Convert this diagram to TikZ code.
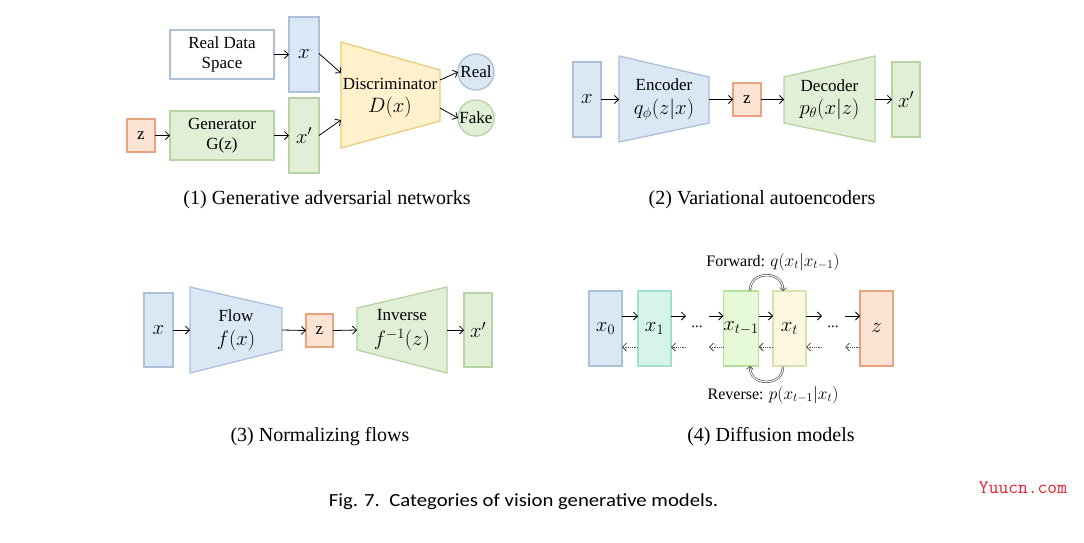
\documentclass[tikz,border=0pt]{standalone}
\usepackage{fontspec}
\setmainfont{Liberation Serif}
\newfontfamily\capfont{Carlito}
\usetikzlibrary{arrows.meta}
\definecolor{bfill}{RGB}{218,232,246}
\definecolor{bdraw}{RGB}{172,192,215}
\definecolor{gfill}{RGB}{225,239,215}
\definecolor{gdraw}{RGB}{182,212,164}
\definecolor{ofill}{RGB}{252,227,212}
\definecolor{odraw}{RGB}{233,163,126}
\definecolor{yfill}{RGB}{255,241,204}
\definecolor{ydraw}{RGB}{233,205,122}
\definecolor{mfill}{RGB}{214,244,232}
\definecolor{mdraw}{RGB}{162,224,200}
\definecolor{lgfill}{RGB}{231,250,215}
\definecolor{lgdraw}{RGB}{178,226,152}
\definecolor{tfill}{RGB}{251,247,224}
\definecolor{tdraw}{RGB}{216,226,174}
\definecolor{wmred}{RGB}{236,28,46}
\newcommand\panelfont{\fontsize{17}{19.5}\selectfont}
\newcommand\labfont{\fontsize{16}{18}\selectfont}
\newcommand\subcapfont{\fontsize{20}{22}\selectfont}
\newcommand\mth[1]{{\fontsize{20.5}{22}\selectfont$#1$}}
\newcommand\lmth[1]{{\fontsize{18.5}{20}\selectfont$#1$}}
\tikzset{
  base/.style={line width=1.3pt, inner sep=0pt, outer sep=0pt, align=center, font=\panelfont},
  bx/.style={base, draw=bdraw, fill=bfill},
  gx/.style={base, draw=gdraw, fill=gfill},
  ox/.style={base, draw=odraw, fill=ofill},
  yx/.style={base, draw=ydraw, fill=yfill},
  mx/.style={base, draw=mdraw, fill=mfill},
  lgx/.style={base, draw=lgdraw, fill=lgfill},
  tx/.style={base, draw=tdraw, fill=tfill},
  small/.style={minimum width=28pt, minimum height=33pt},
  trap/.style={base, minimum height=40pt},
  arr/.style={line width=0.8pt, -{Straight Barb[length=4pt,width=8pt]}},
  darr/.style={line width=0.8pt, black!70, densely dotted, -{Straight Barb[length=4pt,width=8pt,line width=0.8pt]}},
  curv/.style={line width=0.6pt, draw=black!75, double=white, double distance=1.1pt, -{Straight Barb[length=3pt,width=7pt]}},
  subcap/.style={font=\subcapfont, inner sep=0pt},
  dotsty/.style={inner sep=0pt, font=\fontsize{15}{15}\selectfont}
}
\begin{document}
\begin{tikzpicture}[x=1pt,y=-1pt]
\fill[white] (0,0) rectangle (1084,542);
\useasboundingbox (0,0) rectangle (1084,542);

% ---------------- (1) GAN ----------------
\node[base, draw=bdraw, fill=white, minimum width=104pt, minimum height=49pt] (real) at (222,54.5) {Real Data\\Space};
\node[bx, minimum width=30pt, minimum height=75pt] (ganx) at (304,54.5) {\mth{x}};
\node[ox, small] (ganz) at (141,135.5) {z};
\node[gx, minimum width=104pt, minimum height=49pt] (gen) at (222,135.5) {Generator\\G(z)};
\node[gx, minimum width=30pt, minimum height=75pt] (ganxp) at (304,135.5) {\mth{x'}};
\filldraw[yx] (341,42) -- (440,70) -- (440,121) -- (341,148) -- cycle;
\node[base] (disc) at (390,98) {Discriminator\\[3pt]\mth{D(x)}};
\coordinate (din1) at (341,73);
\coordinate (din2) at (341,120);
\coordinate (dout1) at (440,80);
\coordinate (dout2) at (440,108);
\node[bx, circle, minimum size=36pt] (creal) at (476,72) {Real};
\node[gx, circle, minimum size=36pt] (cfake) at (476,118) {Fake};
\draw[arr] (real.east) -- (ganx.west);
\draw[arr] (ganz.east) -- (gen.west);
\draw[arr] (gen.east) -- (ganxp.west);
\draw[arr] ([yshift=1pt]ganx.east) -- (din1);
\draw[arr] (ganxp.east) -- (din2);
\draw[arr] (dout1) -- (creal.west);
\draw[arr] (dout2) -- (cfake.west);
\node[subcap] (cap1) at (327,200) {(1) Generative adversarial networks};

% ---------------- (2) VAE ----------------
\node[bx, minimum width=28pt, minimum height=75pt] (vx) at (587,99.5) {\mth{x}};
\filldraw[bx] (619,56) -- (709,77) -- (709,123) -- (619,142) -- cycle;
\node[trap, minimum width=90pt] (enc) at (664,99.5) {Encoder\\[4pt]\mth{q_\phi(z|x)}};
\node[ox, small] (vz) at (747,99.5) {z};
\filldraw[gx] (784,77) -- (875,56) -- (875,142) -- (784,123) -- cycle;
\node[trap, minimum width=91pt] (dec) at (829.5,99.5) {Decoder\\[4pt]\mth{p_\theta(x|z)}};
\node[gx, minimum width=28pt, minimum height=75pt] (vxp) at (906,99.5) {\mth{x'}};
\draw[arr] (vx.east) -- (enc.west);
\draw[arr] (enc.east) -- (vz.west);
\draw[arr] (vz.east) -- (dec.west);
\draw[arr] (dec.east) -- (vxp.west);
\node[subcap] (cap2) at (762,200) {(2) Variational autoencoders};

% ---------------- (3) Normalizing flows ----------------
\node[bx, minimum width=29pt, minimum height=74pt] (nx) at (158.5,330) {\mth{x}};
\filldraw[bx] (190,287) -- (282,308) -- (282,350) -- (190,373) -- cycle;
\node[trap, minimum width=92pt] (flow) at (236,330) {Flow\\[4pt]\mth{f(x)}};
\node[ox, minimum width=27pt, minimum height=33pt] (nz) at (319.5,330.5) {z};
\filldraw[gx] (357,308) -- (447,287) -- (447,373) -- (357,350) -- cycle;
\node[trap, minimum width=90pt] (inv) at (402,330) {Inverse\\[6pt]\mth{f^{-1}(z)}};
\node[gx, minimum width=28pt, minimum height=74pt] (nxp) at (478,330) {\mth{x'}};
\draw[arr] (nx.east) -- (flow.west);
\draw[arr] (flow.east) -- (nz.west);
\draw[arr] (nz.east) -- (inv.west);
\draw[arr] (inv.east) -- (nxp.west);
\node[subcap] (cap3) at (320,437) {(3) Normalizing flows};

% ---------------- (4) Diffusion ----------------
\node[bx, minimum width=33pt, minimum height=75pt] (d0) at (605.5,328.5) {\mth{x_0}};
\node[mx, minimum width=33pt, minimum height=75pt] (d1) at (654.5,328.5) {\mth{x_1}};
\node[dotsty] (dots1) at (697,327) {...};
\node[lgx, minimum width=32pt, minimum height=75pt] (dt1) at (741,328.5) {\mth{x_{t-1}}};
\node[tx, minimum width=33pt, minimum height=75pt] (dt) at (789.5,328.5) {\mth{x_t}};
\node[dotsty] (dots2) at (833,327) {...};
\node[ox, minimum width=33pt, minimum height=75pt] (dz) at (876.5,328.5) {\mth{z}};
\coordinate (fa) at (686,316);
\coordinate (fb) at (709,316);
\coordinate (fc) at (822,316);
\coordinate (fd) at (845,316);
\coordinate (ra) at (686,347);
\coordinate (rb) at (709,347);
\coordinate (rc) at (822,347);
\coordinate (rd) at (845,347);
% forward
\draw[arr] ([yshift=12.5pt]d0.east) -- ([yshift=12.5pt]d1.west);
\draw[arr] ([yshift=12.5pt]d1.east) -- (fa);
\draw[arr] (fb) -- ([yshift=12.5pt]dt1.west);
\draw[arr] ([yshift=12.5pt]dt1.east) -- ([yshift=12.5pt]dt.west);
\draw[arr] ([yshift=12.5pt]dt.east) -- (fc);
\draw[arr] (fd) -- ([yshift=12.5pt]dz.west);
% reverse
\draw[darr] ([yshift=-18.5pt]d1.west) -- ([yshift=-18.5pt]d0.east);
\draw[darr] (ra) -- ([yshift=-18.5pt]d1.east);
\draw[darr] ([yshift=-18.5pt]dt1.west) -- (rb);
\draw[darr] ([yshift=-18.5pt]dt.west) -- ([yshift=-18.5pt]dt1.east);
\draw[darr] (rc) -- ([yshift=-18.5pt]dt.east);
\draw[darr] ([yshift=-18.5pt]dz.west) -- (rd);
% curved
\draw[curv] ([xshift=9pt]dt1.north) .. controls +(-1,-21) and +(1,-21) .. ([xshift=-6.5pt]dt.north);
\draw[curv] ([xshift=-6.5pt]dt.south) .. controls +(1,21) and +(-1,21) .. ([xshift=9pt]dt1.south);
\node[font=\labfont, inner sep=0pt] (fwd) at (773,262) {Forward: \lmth{q(x_t|x_{t-1})}};
\node[font=\labfont, inner sep=0pt] (rev) at (773,395) {Reverse: \lmth{p(x_{t-1}|x_t)}};
\node[subcap] (cap4) at (771,437) {(4) Diffusion models};

% ---------------- caption ----------------
\node[inner sep=0pt] (figcap) at (523.5,502) {\scalebox{1.12}[1]{\capfont\fontsize{18.5}{20}\selectfont Fig. 7.\ \ Categories of vision generative models.}};
\node[inner sep=0pt, text=wmred, font=\ttfamily\fontsize{19}{20}\selectfont] (wm) at (1023,488) {Yuucn.com};
\end{tikzpicture}
\end{document}
